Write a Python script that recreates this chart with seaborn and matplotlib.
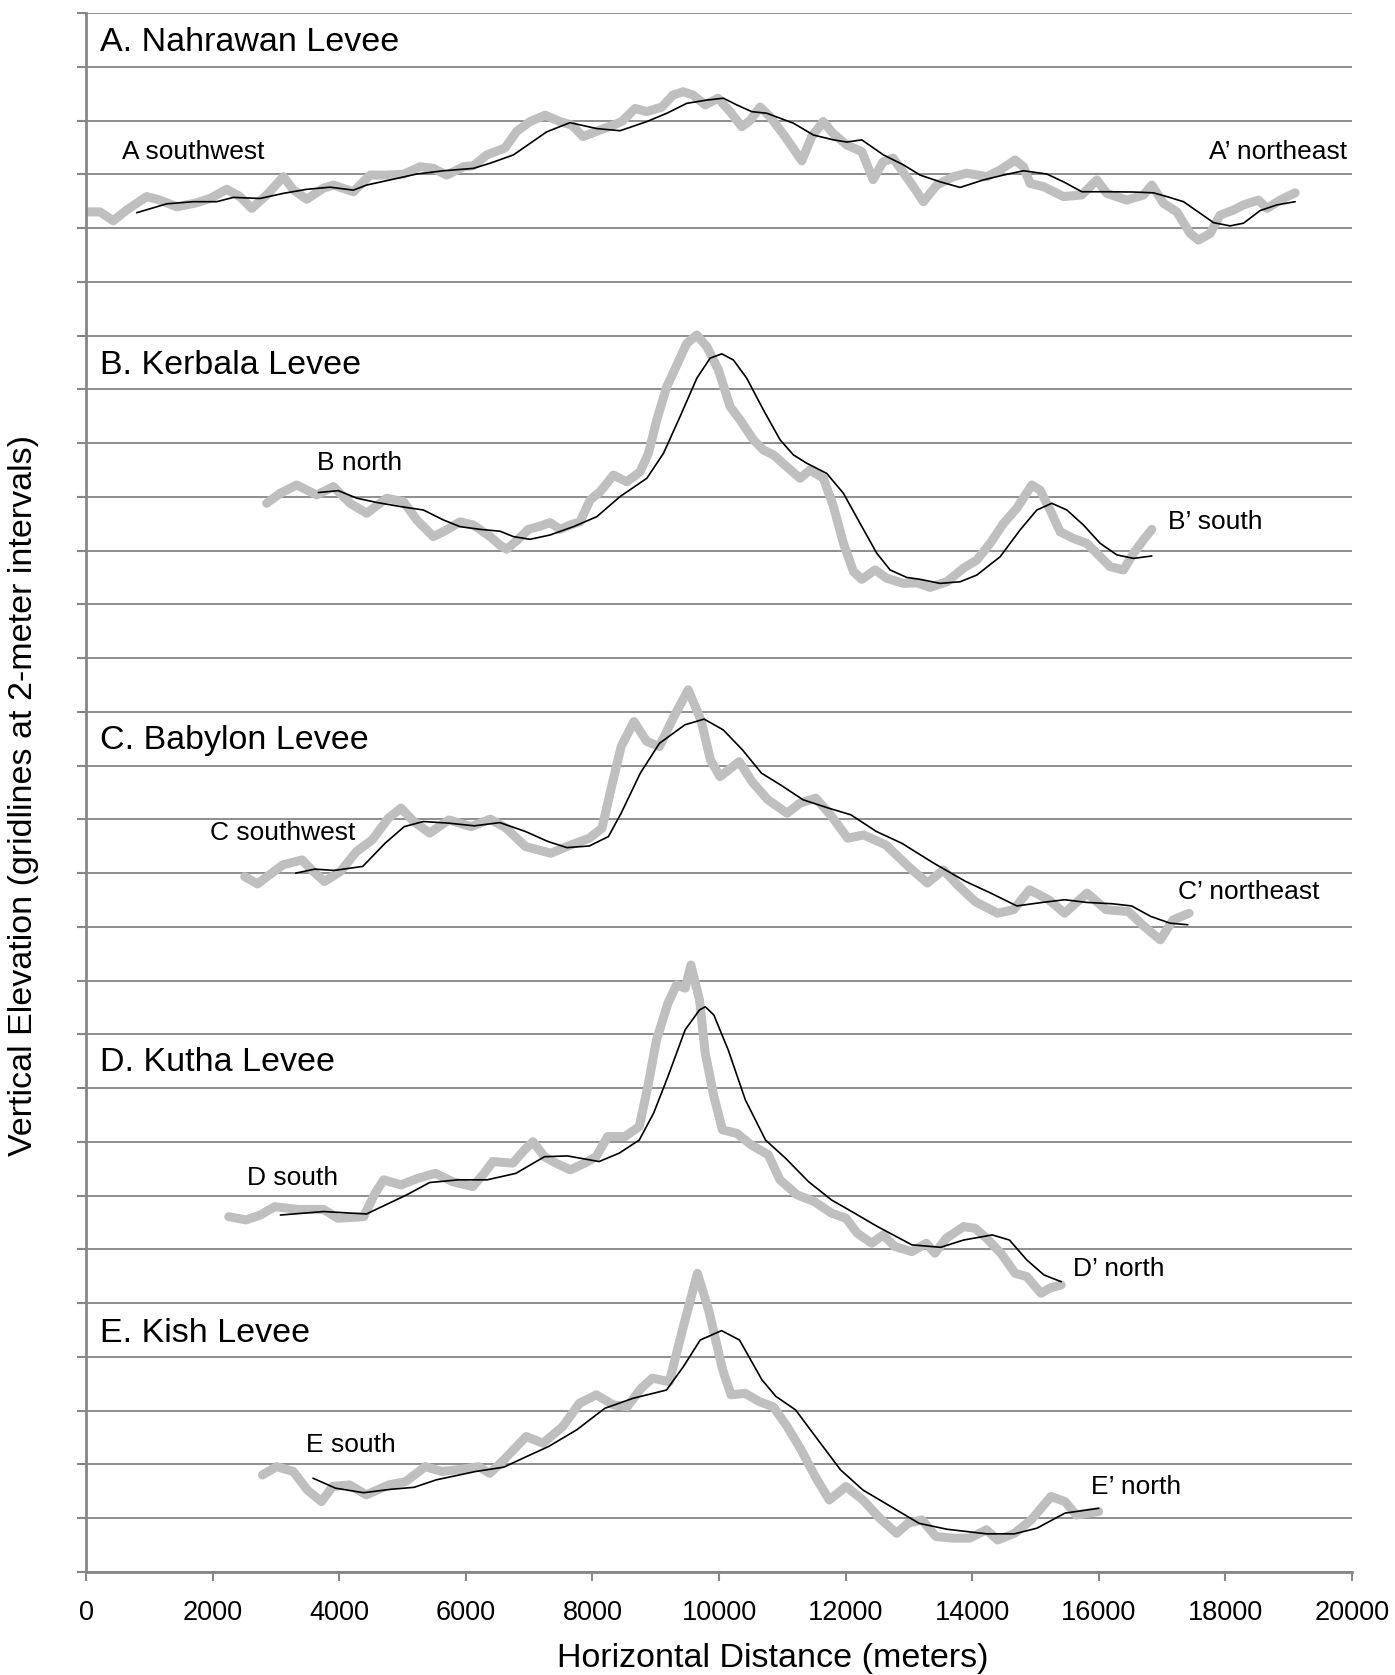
import numpy as np
import pandas as pd
import matplotlib.pyplot as plt
import seaborn as sns

# Levee elevation profiles, x in meters, y in meters (gridlines every 2 m)
# "raw" = thick grey profile, "smooth" = thin black trend line

# A. Nahrawan
a_x_raw = [0, 221, 431, 643, 959, 1169, 1433, 1749, 1959, 2223, 2433, 2618, 2855, 3118, 3276, 3487,
           3750, 3908, 4224, 4487, 4751, 5014, 5277, 5488, 5699, 5962, 6120, 6331, 6620, 6805, 7015,
           7252, 7490, 7674, 7853, 8069, 8330, 8464, 8675, 8860, 9096, 9275, 9433, 9591, 9781, 9986,
           10175, 10360, 10491, 10649, 10807, 11013, 11171, 11307, 11465, 11645, 11803, 12019, 12256,
           12435, 12593, 12750, 13071, 13229, 13441, 13704, 13915, 14231, 14441, 14678, 14810, 14915,
           15126, 15442, 15732, 15969, 16126, 16442, 16706, 16838, 17022, 17233, 17443, 17575, 17759,
           17917, 18128, 18286, 18523, 18655, 18865, 19102]
a_y_raw = [50.6, 50.6, 50.27, 50.67, 51.17, 51.04, 50.79, 50.94, 51.1, 51.44, 51.17, 50.73, 51.23, 51.91,
           51.42, 51.07, 51.48, 51.6, 51.35, 51.97, 51.97, 52.0, 52.28, 52.22, 51.97, 52.28, 52.32, 52.72,
           52.98, 53.6, 53.96, 54.2, 53.96, 53.83, 53.4, 53.6, 53.83, 53.96, 54.45, 54.33, 54.5, 54.95,
           55.07, 54.95, 54.58, 54.83, 54.33, 53.77, 54.0, 54.5, 54.14, 53.5, 52.97, 52.5, 53.4, 53.96,
           53.52, 53.09, 52.84, 51.8, 52.47, 52.6, 51.54, 50.98, 51.6, 51.91, 52.04, 51.91, 52.16, 52.53,
           52.28, 51.66, 51.54, 51.17, 51.23, 51.79, 51.29, 51.04, 51.23, 51.6, 50.92, 50.6, 49.8, 49.55,
           49.8, 50.48, 50.67, 50.86, 51.04, 50.73, 51.04, 51.31]
a_x_smooth = [801, 1275, 1696, 2065, 2328, 2749, 3118, 3487, 3855, 4224, 4435, 4803, 5225, 5646, 6120,
              6383, 6752, 7279, 7647, 8069, 8437, 8860, 9176, 9491, 9807, 10070, 10281, 10518, 10755,
              11176, 11492, 11808, 12019, 12256, 12598, 12914, 13177, 13493, 13809, 14177, 14493, 14810,
              15179, 15442, 15732, 16126, 16547, 16864, 17075, 17338, 17601, 17812, 18075, 18286, 18549,
              18813, 19102]
a_y_smooth = [50.57, 50.9, 50.98, 50.98, 51.14, 51.1, 51.29, 51.44, 51.52, 51.41, 51.6, 51.79, 52.01,
              52.13, 52.22, 52.41, 52.72, 53.58, 53.92, 53.7, 53.62, 53.96, 54.27, 54.64, 54.76, 54.83,
              54.58, 54.33, 54.27, 53.9, 53.46, 53.28, 53.2, 53.28, 52.72, 52.35, 51.97, 51.72, 51.51,
              51.79, 51.97, 52.13, 52.01, 51.72, 51.35, 51.35, 51.34, 51.31, 51.17, 50.98, 50.55, 50.2,
              50.08, 50.18, 50.65, 50.86, 50.98]

# B. Kerbala
b_x_raw = [2855, 3065, 3329, 3645, 3908, 4171, 4435, 4751, 5014, 5225, 5488, 5699, 5909, 6120, 6383,
           6541, 6647, 6805, 6989, 7173, 7331, 7489, 7647, 7805, 7963, 8121, 8332, 8543, 8753, 8885,
           9017, 9175, 9333, 9491, 9649, 9807, 9991, 10175, 10333, 10544, 10702, 10860, 11071, 11281,
           11439, 11649, 11808, 11966, 12124, 12256, 12466, 12651, 12914, 13124, 13335, 13598, 13861,
           14073, 14283, 14494, 14704, 14941, 15073, 15231, 15389, 15600, 15811, 16021, 16179, 16390,
           16548, 16706, 16838]
b_y_raw = [39.76, 40.13, 40.44, 40.07, 40.38, 39.76, 39.39, 39.95, 39.82, 39.14, 38.52, 38.77, 39.07,
           38.95, 38.52, 38.2, 38.05, 38.37, 38.79, 38.91, 39.04, 38.79, 38.95, 39.07, 39.88, 40.19,
           40.81, 40.56, 40.93, 41.62, 42.86, 44.1, 44.9, 45.71, 46.02, 45.59, 44.72, 43.36, 42.86,
           42.12, 41.74, 41.56, 41.12, 40.69, 41.0, 40.69, 39.64, 38.27, 37.22, 36.93, 37.28, 36.97,
           36.78, 36.8, 36.63, 36.84, 37.34, 37.65, 38.27, 39.01, 39.57, 40.44, 40.25, 39.51, 38.7,
           38.45, 38.27, 37.77, 37.4, 37.28, 37.9, 38.4, 38.79]
b_x_smooth = [3671, 3987, 4277, 4593, 4961, 5330, 5646, 5909, 6225, 6541, 6752, 7015, 7331, 7700, 8069,
              8437, 8860, 9123, 9386, 9649, 9860, 10044, 10228, 10439, 10702, 10965, 11176, 11386,
              11702, 11966, 12229, 12493, 12703, 12967, 13177, 13493, 13809, 14073, 14441, 14757,
              15021, 15258, 15495, 15758, 16021, 16285, 16548, 16838]
b_y_smooth = [40.16, 40.23, 39.95, 39.79, 39.64, 39.51, 39.14, 38.89, 38.79, 38.72, 38.52, 38.42, 38.58,
              38.89, 39.26, 40.01, 40.69, 41.62, 42.99, 44.41, 45.16, 45.32, 45.09, 44.41, 43.23, 42.12,
              41.56, 41.25, 40.87, 40.13, 39.01, 37.9, 37.28, 37.0, 36.93, 36.78, 36.84, 37.09, 37.77,
              38.77, 39.51, 39.76, 39.51, 38.95, 38.27, 37.84, 37.71, 37.8]

# C. Babylon
c_x_raw = [2507, 2708, 3111, 3414, 3565, 3767, 4019, 4271, 4523, 4775, 4976, 5178, 5430, 5732, 6085,
           6387, 6639, 6942, 7345, 7597, 7950, 8151, 8303, 8454, 8656, 8858, 9059, 9261, 9513, 9714,
           9865, 10016, 10319, 10520, 10772, 11075, 11276, 11528, 11780, 12032, 12284, 12637, 12990,
           13292, 13544, 13796, 14048, 14401, 14653, 14905, 15208, 15460, 15813, 16115, 16468, 16720,
           16972, 17174, 17426]
c_y_raw = [25.87, 25.6, 26.31, 26.49, 26.12, 25.69, 26.06, 26.8, 27.24, 28.04, 28.42, 27.92, 27.49,
           27.98, 27.73, 28.01, 27.67, 26.99, 26.74, 26.99, 27.3, 27.67, 29.22, 30.71, 31.64, 30.9,
           30.71, 31.7, 32.82, 31.7, 30.21, 29.59, 30.15, 29.41, 28.73, 28.23, 28.6, 28.79, 28.11,
           27.3, 27.42, 27.05, 26.25, 25.63, 26.12, 25.5, 24.94, 24.51, 24.64, 25.38, 25.01, 24.51,
           25.26, 24.64, 24.57, 24.01, 23.52, 24.26, 24.51]
c_x_smooth = [3313, 3615, 3918, 4372, 4724, 5027, 5329, 5732, 6135, 6538, 6942, 7295, 7597, 7950, 8253,
              8454, 8757, 9059, 9462, 9764, 10067, 10369, 10671, 10974, 11327, 11730, 12083, 12486,
              12889, 13393, 13897, 14300, 14704, 15107, 15460, 15813, 16216, 16518, 16821, 17123, 17405]
c_y_smooth = [26.0, 26.15, 26.1, 26.25, 27.11, 27.73, 27.92, 27.86, 27.76, 27.88, 27.55, 27.18, 26.95,
              27.01, 27.36, 28.23, 29.72, 30.83, 31.52, 31.73, 31.33, 30.59, 29.72, 29.28, 28.73, 28.42,
              28.17, 27.55, 27.11, 26.37, 25.69, 25.25, 24.78, 24.91, 25.01, 24.91, 24.86, 24.78, 24.39,
              24.14, 24.08]

# D. Kutha
d_x_raw = [2255, 2527, 2753, 2980, 3343, 3751, 3978, 4386, 4567, 4703, 4975, 5248, 5520, 5792, 6109,
           6290, 6427, 6744, 6926, 7062, 7243, 7424, 7651, 7878, 8059, 8241, 8513, 8740, 8876, 9012,
           9193, 9329, 9465, 9556, 9692, 9783, 9919, 10055, 10282, 10508, 10780, 10962, 11234, 11506,
           11778, 12005, 12186, 12413, 12594, 12776, 13048, 13275, 13411, 13592, 13864, 14045, 14226,
           14453, 14680, 14862, 15088, 15225, 15406]
d_y_raw = [13.22, 13.1, 13.28, 13.59, 13.49, 13.49, 13.16, 13.22, 14.09, 14.59, 14.4, 14.65, 14.83,
           14.52, 14.34, 14.83, 15.27, 15.21, 15.7, 16.01, 15.45, 15.21, 14.96, 15.21, 15.45, 16.2,
           16.2, 16.57, 18.06, 19.79, 21.16, 21.84, 21.72, 22.58, 21.28, 19.3, 17.69, 16.45, 16.32,
           15.89, 15.52, 14.59, 14.03, 13.78, 13.35, 13.16, 12.6, 12.23, 12.54, 12.11, 11.92, 12.23,
           11.86, 12.42, 12.85, 12.79, 12.42, 11.86, 11.11, 10.99, 10.37, 10.56, 10.68]
d_x_smooth = [3071, 3751, 4431, 5066, 5429, 5883, 6336, 6790, 7243, 7606, 8105, 8422, 8740, 8967, 9193,
              9465, 9692, 9783, 9919, 10146, 10417, 10735, 11053, 11415, 11778, 12141, 12504, 13048,
              13502, 13864, 14317, 14589, 14862, 15134, 15406]
d_y_smooth = [13.28, 13.41, 13.32, 14.03, 14.49, 14.59, 14.59, 14.83, 15.45, 15.48, 15.27, 15.58, 16.07,
              17.07, 18.43, 20.17, 20.91, 21.03, 20.72, 19.42, 17.56, 16.07, 15.39, 14.52, 13.84, 13.35,
              12.85, 12.17, 12.08, 12.35, 12.54, 12.35, 11.61, 11.05, 10.8]

# E. Kish
e_x_raw = [2788, 3009, 3275, 3497, 3719, 3896, 4162, 4428, 4783, 5049, 5359, 5625, 5935, 6201, 6378,
           6600, 6955, 7221, 7531, 7797, 8063, 8329, 8551, 8772, 8949, 9215, 9437, 9659, 9836, 10058,
           10191, 10412, 10634, 10856, 11077, 11299, 11521, 11742, 12008, 12274, 12540, 12807, 12984,
           13206, 13427, 13693, 13959, 14225, 14402, 14668, 14934, 15244, 15466, 15643, 15998]
e_y_raw = [3.61, 3.92, 3.74, 3.05, 2.62, 3.18, 3.24, 2.87, 3.24, 3.36, 3.92, 3.74, 3.82, 3.92, 3.67,
           4.17, 5.04, 4.79, 5.41, 6.28, 6.59, 6.22, 6.15, 6.84, 7.21, 7.08, 9.13, 11.11, 9.75, 7.52,
           6.59, 6.65, 6.34, 6.15, 5.41, 4.54, 3.55, 2.68, 3.18, 2.68, 2.0, 1.44, 1.81, 1.94, 1.32,
           1.26, 1.26, 1.57, 1.19, 1.44, 1.94, 2.81, 2.62, 2.12, 2.25]
e_x_smooth = [3586, 3940, 4384, 4827, 5182, 5536, 6157, 6600, 6955, 7309, 7753, 8196, 8639, 9171, 9437,
              9703, 10040, 10324, 10678, 10900, 11210, 11565, 11920, 12274, 12718, 13161, 13604, 14225,
              14668, 15022, 15466, 15998]
e_y_smooth = [3.49, 3.12, 2.95, 3.08, 3.15, 3.43, 3.74, 3.9, 4.29, 4.67, 5.29, 6.09, 6.46, 6.77, 7.64,
              8.63, 8.98, 8.63, 7.15, 6.53, 6.03, 4.91, 3.8, 3.05, 2.43, 1.81, 1.59, 1.42, 1.42, 1.63,
              2.19, 2.37]

# panel titles and end labels
titles = ["A. Nahrawan Levee", "B. Kerbala Levee", "C. Babylon Levee", "D. Kutha Levee", "E. Kish Levee"]
title_y = [56.92, 44.9, 30.95, 18.94, 8.89]
start_labels = ["A southwest", "B north", "C southwest", "D south", "E south"]
start_xy = [(569, 52.83), (3650, 41.26), (1953, 27.49), (2544, 14.66), (3476, 4.73)]
end_labels = ["A\u2019 northeast", "B\u2019 south", "C\u2019 northeast", "D\u2019 north", "E\u2019 north"]
end_xy = [(19924, 52.83, "right"), (17096, 39.06, "left"), (17254, 25.3, "left"),
          (15595, 11.27, "left"), (15871, 3.16, "left")]

sns.set_style("white")
plt.rcParams['font.family'] = ['Liberation Sans', 'DejaVu Sans']
plt.rcParams['text.color'] = 'black'

fig = plt.figure(figsize=(13.95, 16.75), dpi=100)
ax = fig.add_axes([86 / 1395, 1 - 1572 / 1675, (1352 - 86) / 1395, (1572 - 13) / 1675])

profiles = [(a_x_raw, a_y_raw, a_x_smooth, a_y_smooth),
            (b_x_raw, b_y_raw, b_x_smooth, b_y_smooth),
            (c_x_raw, c_y_raw, c_x_smooth, c_y_smooth),
            (d_x_raw, d_y_raw, d_x_smooth, d_y_smooth),
            (e_x_raw, e_y_raw, e_x_smooth, e_y_smooth)]

for xr, yr, xs, ys in profiles:
    raw = pd.DataFrame({"dist": xr, "elev": yr})
    smooth = pd.DataFrame({"dist": xs, "elev": ys})
    sns.lineplot(data=raw, x="dist", y="elev", ax=ax, color="#bfbfbf", linewidth=6.5,
                 estimator=None, sort=False, solid_capstyle="round", solid_joinstyle="round")
    sns.lineplot(data=smooth, x="dist", y="elev", ax=ax, color="black", linewidth=1.2,
                 estimator=None, sort=False, solid_joinstyle="round")

for t, ty in zip(titles, title_y):
    ax.text(221, ty, t, fontsize=24.5, va="center", ha="left", color="black")
for t, (tx, ty) in zip(start_labels, start_xy):
    ax.text(tx, ty, t, fontsize=19, va="center", ha="left", color="black")
for t, (tx, ty, al) in zip(end_labels, end_xy):
    ax.text(tx, ty, t, fontsize=19, va="center", ha=al, color="black")

ax.set_xlim(0, 20000)
ax.set_ylim(0, 58)
ax.set_xticks(np.arange(0, 20001, 2000))
ax.set_yticks(np.arange(0, 59, 2))
ax.set_axisbelow(True)
ax.yaxis.grid(True, color="#868686", linewidth=1.3)
ax.xaxis.grid(False)
ax.set_xlabel("")
ax.set_ylabel("")

for side in ["top", "right"]:
    ax.spines[side].set_visible(False)
for side in ["left", "bottom"]:
    ax.spines[side].set_color("#868686")
    ax.spines[side].set_linewidth(2)

ax.tick_params(axis="both", direction="out", length=6.5, width=1.5, color="#868686",
               left=True, bottom=True)
ax.tick_params(axis="y", labelleft=False)
ax.tick_params(axis="x", labelsize=19.5, pad=14, labelcolor="black")

fig.text(773 / 1395, 1 - 1659 / 1675, "Horizontal Distance (meters)", fontsize=24.5,
         ha="center", va="center", color="black")
fig.text(23.5 / 1395, 1 - 796 / 1675, "Vertical Elevation (gridlines at 2-meter intervals)",
         fontsize=24.5, rotation=90, ha="center", va="center", color="black")

fig.savefig("out.png", dpi=100)
